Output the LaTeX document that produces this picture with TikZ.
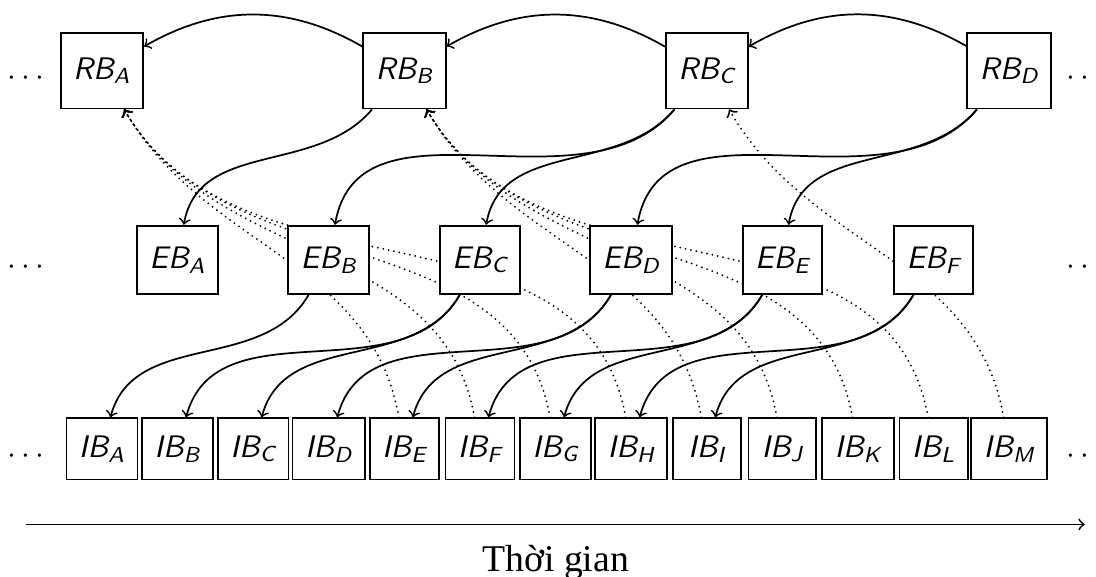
\documentclass[tikz,border=0pt]{standalone}
\usepackage{fontspec}
\newfontfamily\timesfont{Liberation Serif}
\usetikzlibrary{backgrounds}
\tikzset{
  blk/.style={draw, semithick, fill=white, font=\sffamily\itshape\fontsize{10.8pt}{13pt}\selectfont, inner xsep=4.3pt, inner ysep=0pt},
  rb/.style={blk, minimum width=26.9pt, minimum height=26.1pt},
  eb/.style={blk, minimum width=26pt, minimum height=23.7pt},
  ib/.style={blk, minimum width=23.5pt, minimum height=21.2pt},
  more/.style={anchor=base, font=\fontsize{11.3pt}{13pt}\selectfont},
  link/.style={->, semithick},
  refl/.style={->, line width=0.7pt, line cap=round, dash pattern=on 0pt off 1.9pt},
}
\begin{document}
\begin{tikzpicture}[x=0.922cm,y=0.922cm]
                \useasboundingbox (-1.349,-1.683) rectangle (13.148,5.937);
                \node[rb] (RBA) at (0,5) {RB\textsubscript{A}};
                \node[rb] (RBB) at (4,5) {RB\textsubscript{B}};
                \node[rb] (RBC) at (8,5) {RB\textsubscript{C}};
                \node[rb] (RBD) at (12,5) {RB\textsubscript{D}};
                \node[eb] (EBA) at (1,2.5) {EB\textsubscript{A}};
                \node[eb] (EBB) at (3,2.5) {EB\textsubscript{B}};
                \node[eb] (EBC) at (5,2.5) {EB\textsubscript{C}};
                \node[eb] (EBD) at (7,2.5) {EB\textsubscript{D}};
                \node[eb] (EBE) at (9,2.5) {EB\textsubscript{E}};
                \node[eb] (EBF) at (11,2.5) {EB\textsubscript{F}};
                \node[ib] (IBA) at (0,0) {IB\textsubscript{A}};
                \node[ib] (IBB) at (1,0) {IB\textsubscript{B}};
                \node[ib] (IBC) at (2,0) {IB\textsubscript{C}};
                \node[ib] (IBD) at (3,0) {IB\textsubscript{D}};
                \node[ib] (IBE) at (4,0) {IB\textsubscript{E}};
                \node[ib] (IBF) at (5,0) {IB\textsubscript{F}};
                \node[ib] (IBG) at (6,0) {IB\textsubscript{G}};
                \node[ib] (IBH) at (7,0) {IB\textsubscript{H}};
                \node[ib] (IBI) at (8,0) {IB\textsubscript{I}};
                \node[ib] (IBJ) at (9,0) {IB\textsubscript{J}};
                \node[ib] (IBK) at (10,0) {IB\textsubscript{K}};
                \node[ib] (IBL) at (11,0) {IB\textsubscript{L}};
                \node[ib] (IBM) at (12,0) {IB\textsubscript{M}};
                \node[more] (dotsRl) at (-1,4.808) {$\cdots$};
                \node[more] (dotsRr) at (13,4.808) {$\cdots$};
                \node[more] (dotsEl) at (-1,2.308) {$\cdots$};
                \node[more] (dotsEr) at (13,2.308) {$\cdots$};
                \node[more] (dotsIl) at (-1,-0.192) {$\cdots$};
                \node[more] (dotsIr) at (13,-0.192) {$\cdots$};

                \draw[link] (RBB) to[bend right=30] (RBA); \draw[link] (RBC) to[bend right=30] (RBB); \draw[link] (RBD) to[bend right=30] (RBC);
                \draw[link] (RBB) to[out=-130,in=80] (EBA);
                \draw[link] (RBC) to[out=-130,in=80] (EBB); \draw[link] (RBC) to[out=-130,in=80] (EBC);
                \draw[link] (RBD) to[out=-130,in=80] (EBD); \draw[link] (RBD) to[out=-130,in=80] (EBE);
                \draw[link] (EBB) to[out=-120,in=75] (IBA);
                \draw[link] (EBC) to[out=-120,in=75] (IBB); \draw[link] (EBC) to[out=-120,in=75] (IBC);
                \draw[link] (EBD) to[out=-120,in=75] (IBD); \draw[link] (EBD) to[out=-120,in=75] (IBE);
                \draw[link] (EBE) to[out=-120,in=75] (IBF); \draw[link] (EBE) to[out=-120,in=75] (IBG);
                \draw[link] (EBF) to[out=-120,in=75] (IBH); \draw[link] (EBF) to[out=-120,in=75] (IBI);

                \begin{pgfonlayer}{background}
                \draw[refl] (IBE) to[out=100,in=-60] (RBA); \draw[refl] (IBF) to[out=100,in=-60] (RBA);
                \draw[refl] (IBG) to[out=100,in=-60] (RBA); \draw[refl] (IBH) to[out=100,in=-60] (RBA);
                \draw[refl] (IBI) to[out=100,in=-60] (RBB); \draw[refl] (IBJ) to[out=100,in=-60] (RBB);
                \draw[refl] (IBK) to[out=100,in=-60] (RBB); \draw[refl] (IBL) to[out=100,in=-60] (RBB);
                \draw[refl] (IBM) to[out=100,in=-60] (RBC);
                \end{pgfonlayer}

                \coordinate (tstart) at (-1,-1);
                \coordinate (tend) at (13,-1);
                \draw[link] (tstart) -- (tend);
                \node[anchor=base, font=\timesfont\fontsize{13.1pt}{16pt}\selectfont] (tlabel) at (6,-1.626) {Thời gian};
            \end{tikzpicture}
\end{document}
